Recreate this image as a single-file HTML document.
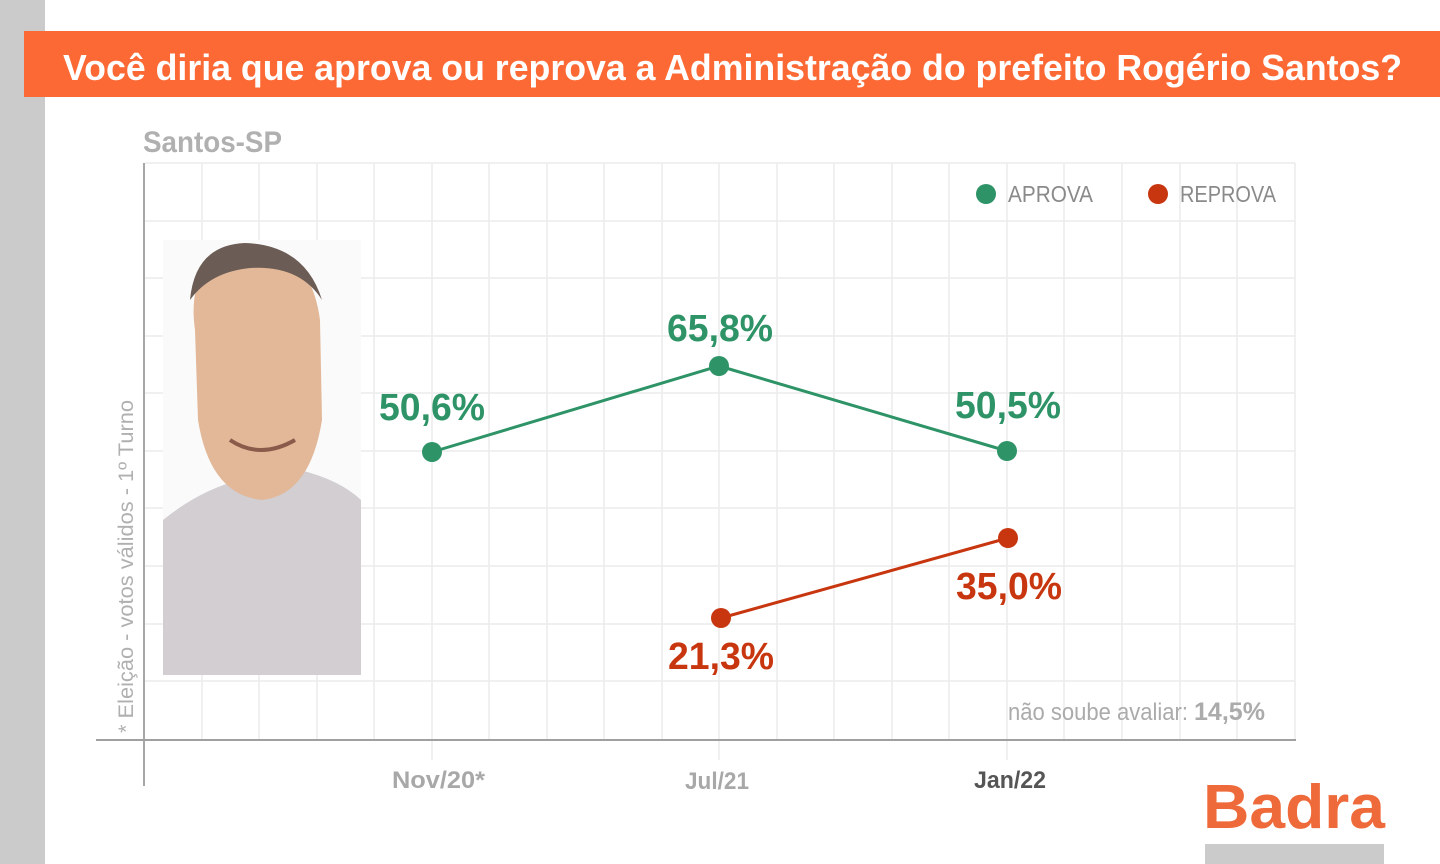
<!DOCTYPE html>
<html><head><meta charset="utf-8"><style>
html,body{margin:0;padding:0;background:#fff;}
svg{display:block;font-family:"Liberation Sans",sans-serif;}
</style></head><body>
<svg width="1440" height="864" viewBox="0 0 1440 864">
<rect x="0" y="0" width="45" height="864" fill="#cbcbcb"/>
<rect x="24" y="31" width="1416" height="66" fill="#fd6934"/>
<text x="63" y="80" font-size="36" font-weight="bold" fill="#fff" textLength="1339" lengthAdjust="spacingAndGlyphs">Você diria que aprova ou reprova a Administração do prefeito Rogério Santos?</text>
<text x="143" y="152" font-size="30" font-weight="bold" fill="#b0b0b0" textLength="139" lengthAdjust="spacingAndGlyphs">Santos-SP</text>
<g stroke="#ececec" stroke-width="1.5">
<line x1="202" y1="163" x2="202" y2="740"/><line x1="259" y1="163" x2="259" y2="740"/><line x1="317" y1="163" x2="317" y2="740"/><line x1="374" y1="163" x2="374" y2="740"/><line x1="432" y1="163" x2="432" y2="760"/><line x1="489" y1="163" x2="489" y2="740"/><line x1="547" y1="163" x2="547" y2="740"/><line x1="604" y1="163" x2="604" y2="740"/><line x1="662" y1="163" x2="662" y2="740"/><line x1="719" y1="163" x2="719" y2="760"/><line x1="777" y1="163" x2="777" y2="740"/><line x1="834" y1="163" x2="834" y2="740"/><line x1="892" y1="163" x2="892" y2="740"/><line x1="949" y1="163" x2="949" y2="740"/><line x1="1007" y1="163" x2="1007" y2="760"/><line x1="1064" y1="163" x2="1064" y2="740"/><line x1="1122" y1="163" x2="1122" y2="740"/><line x1="1180" y1="163" x2="1180" y2="740"/><line x1="1237" y1="163" x2="1237" y2="740"/><line x1="1295" y1="163" x2="1295" y2="740"/>
<line x1="145" y1="163" x2="1295" y2="163"/><line x1="145" y1="221" x2="1295" y2="221"/><line x1="145" y1="278" x2="1295" y2="278"/><line x1="145" y1="336" x2="1295" y2="336"/><line x1="145" y1="393" x2="1295" y2="393"/><line x1="145" y1="451" x2="1295" y2="451"/><line x1="145" y1="508" x2="1295" y2="508"/><line x1="145" y1="566" x2="1295" y2="566"/><line x1="145" y1="624" x2="1295" y2="624"/><line x1="145" y1="681" x2="1295" y2="681"/>
</g>
<line x1="144" y1="163" x2="144" y2="786" stroke="#8a8a8a" stroke-width="1.5"/>
<line x1="96" y1="740" x2="1296" y2="740" stroke="#a0a0a0" stroke-width="2"/>
<!-- portrait -->
<rect x="163" y="240" width="198" height="435" fill="#fafafa"/>
<path d="M163 675 L163 520 Q200 490 240 480 L300 470 Q340 480 361 500 L361 675 Z" fill="#d2ced2"/>
<path d="M195 330 Q185 260 245 248 Q310 245 320 320 L322 420 Q310 495 262 500 Q210 495 198 420 Z" fill="#e2b898"/>
<path d="M190 300 Q195 245 245 243 Q305 245 322 300 Q300 265 250 268 Q210 272 190 300 Z" fill="#6b5c55"/>
<path d="M230 440 Q260 460 295 440" stroke="#8a5a4a" stroke-width="4" fill="none"/>
<text transform="translate(133,733) rotate(-90)" font-size="21" fill="#b0b0b0" textLength="333" lengthAdjust="spacingAndGlyphs">* Eleição - votos válidos - 1º Turno</text>
<!-- legend -->
<circle cx="986" cy="194" r="10" fill="#2e9467"/>
<text x="1008" y="202" font-size="23" fill="#8a8a8a" textLength="85" lengthAdjust="spacingAndGlyphs">APROVA</text>
<circle cx="1158" cy="194" r="10" fill="#c8360f"/>
<text x="1180" y="202" font-size="23" fill="#8a8a8a" textLength="96" lengthAdjust="spacingAndGlyphs">REPROVA</text>
<!-- series -->
<polyline points="432,452 719,366 1007,451" fill="none" stroke="#2e9467" stroke-width="3"/>
<circle cx="432" cy="452" r="10" fill="#2e9467"/><circle cx="719" cy="366" r="10" fill="#2e9467"/><circle cx="1007" cy="451" r="10" fill="#2e9467"/>
<polyline points="721,618 1008,538" fill="none" stroke="#c8360f" stroke-width="3"/>
<circle cx="721" cy="618" r="10" fill="#c8360f"/><circle cx="1008" cy="538" r="10" fill="#c8360f"/>
<g font-size="38" font-weight="bold">
<text x="379" y="420" fill="#2e9467" textLength="106" lengthAdjust="spacingAndGlyphs">50,6%</text>
<text x="667" y="341" fill="#2e9467" textLength="106" lengthAdjust="spacingAndGlyphs">65,8%</text>
<text x="955" y="418" fill="#2e9467" textLength="106" lengthAdjust="spacingAndGlyphs">50,5%</text>
<text x="668" y="669" fill="#c8360f" textLength="106" lengthAdjust="spacingAndGlyphs">21,3%</text>
<text x="956" y="599" fill="#c8360f" textLength="106" lengthAdjust="spacingAndGlyphs">35,0%</text>
</g>
<text x="1008" y="720" font-size="24" fill="#ababab" textLength="180" lengthAdjust="spacingAndGlyphs">não soube avaliar:</text>
<text x="1194" y="720" font-size="25" font-weight="bold" fill="#ababab" textLength="71" lengthAdjust="spacingAndGlyphs">14,5%</text>
<g font-size="24" font-weight="bold">
<text x="392" y="788" fill="#a8a8a8" textLength="93" lengthAdjust="spacingAndGlyphs">Nov/20*</text>
<text x="685" y="789" fill="#a8a8a8" textLength="64" lengthAdjust="spacingAndGlyphs">Jul/21</text>
<text x="974" y="788" fill="#555" textLength="72" lengthAdjust="spacingAndGlyphs">Jan/22</text>
</g>
<text x="1203" y="828" font-size="62" font-weight="bold" fill="#ef6a3a" textLength="182" lengthAdjust="spacingAndGlyphs">Badra</text>
<rect x="1205" y="844" width="179" height="20" fill="#cbcbcb"/>
</svg>
</body></html>
